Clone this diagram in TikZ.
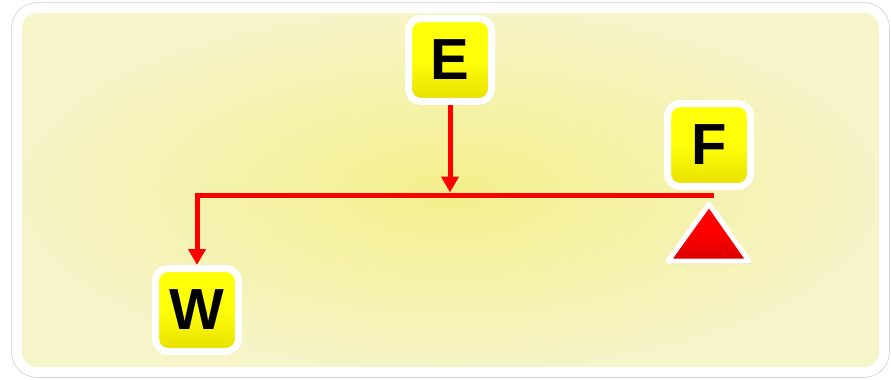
\documentclass[tikz,border=0pt]{standalone}
\usepackage{fontspec}
\setmainfont{Liberation Sans}
\usepackage{tikz}
\usetikzlibrary{arrows.meta,shadows}
\definecolor{panelmid}{RGB}{244,240,140}
\definecolor{paneledge}{RGB}{246,244,200}
\definecolor{panelrim}{RGB}{205,205,200}
\definecolor{keytop}{RGB}{255,255,10}
\definecolor{keybot}{RGB}{232,222,0}
\definecolor{beamred}{RGB}{255,0,0}
\tikzset{
  panel/.style={draw=white,line width=0.2cm,rounded corners=0.4cm},
  key/.style={rounded corners=0.25cm,draw=white,line width=0.14cm,top color=keytop,bottom color=keybot,middle color=keytop,
    minimum size=1.66cm,inner sep=0pt,font=\fontsize{33}{33}\selectfont\bfseries,
    drop shadow={opacity=0.3,shadow xshift=0.04cm,shadow yshift=-0.06cm}},
  arr/.style={-{Triangle[length=0.32cm,width=0.34cm]},line width=0.1cm,draw=beamred},
  support/.style={draw=white,line width=0.1cm,line join=round,top color=red,bottom color=red!85!black,middle color=red,
    drop shadow={opacity=0.3,shadow xshift=0.04cm,shadow yshift=-0.06cm}},
}
\begin{document}
\begin{tikzpicture}[x=0.02cm,y=-0.02cm]
\useasboundingbox (0,0) rectangle (891,379);
% background panel
\draw[panelrim,line width=0.03cm,rounded corners=0.5cm] (12,3) rectangle (889,377);
\draw[panel,inner color=panelmid,outer color=paneledge] (17,8) rectangle (884,372);
% keys
\node[key] (e) at (450,60) {E};
\node[key] (f) at (709,145) {F};
\node[key] (w) at (197,310) {W};
% beam and support
\coordinate (beamL) at (197,195);
\coordinate (beamR) at (714,195);
\draw[support] (709,204) -- (749,261) -- (668,261) -- cycle;
\draw[arr] (beamR) -- (beamL) -- (w.north);
\draw[arr] (e.south) -- ([yshift=0.05cm]e.south |- beamL);
\end{tikzpicture}
\end{document}
